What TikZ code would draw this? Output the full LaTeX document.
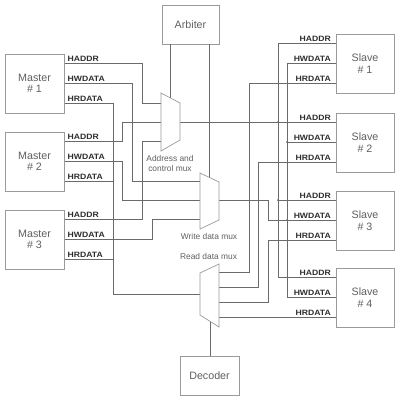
\documentclass[tikz,border=0pt]{standalone}
\usepackage{fontspec}
\setmainfont{Liberation Sans}
\newfontface\sigfont[FakeStretch=1.12]{Liberation Sans Bold}
\definecolor{boxc}{HTML}{9A9A9A}
\definecolor{wirec}{HTML}{6A6A6A}
\definecolor{txtc}{HTML}{606060}
\definecolor{labc}{HTML}{2E2E2E}
\begin{document}
\begin{tikzpicture}[x=1pt,y=-1pt,
  box/.style={draw=boxc, line width=0.7pt, fill=white, minimum width=59pt, minimum height=59pt, inner sep=0pt, align=center, font=\fontsize{10.7}{11.5}\selectfont, text=txtc},
  wire/.style={draw=wirec, line width=0.75pt},
  sig/.style={font=\sigfont\fontsize{7.7}{8}\selectfont, text=labc, inner sep=0pt},
  muxs/.style={draw=boxc, line width=0.7pt, fill=white, line join=miter},
  muxcap/.style={font=\fontsize{8.4}{9.6}\selectfont, text=txtc, inner sep=0pt, align=center},
  jdot/.style={circle, fill=wirec, inner sep=0pt, minimum size=2pt}]
\useasboundingbox (0,0) rectangle (400,400);
\fill[white] (0,0) rectangle (400,400);

% ---------- pin coordinates ----------
\coordinate (m1a) at (64,63);  \coordinate (m1w) at (64,83);  \coordinate (m1r) at (64,103);
\coordinate (m2a) at (64,141); \coordinate (m2w) at (64,161); \coordinate (m2r) at (64,181);
\coordinate (m3a) at (64,219); \coordinate (m3w) at (64,239); \coordinate (m3r) at (64,259);
\coordinate (s1a) at (336,43);  \coordinate (s1w) at (336,63);  \coordinate (s1r) at (336,83);
\coordinate (s2a) at (336,122); \coordinate (s2w) at (336,142); \coordinate (s2r) at (336,162);
\coordinate (s3a) at (336,200); \coordinate (s3w) at (336,220); \coordinate (s3r) at (336,240);
\coordinate (s4a) at (336,277); \coordinate (s4w) at (336,297); \coordinate (s4r) at (336,317);
% address mux
\coordinate (am1) at (161,103); \coordinate (am2) at (161,122); \coordinate (am3) at (161,141);
\coordinate (aout) at (180,122); \coordinate (asel) at (170,97.7);
% write mux
\coordinate (wm1) at (200,181); \coordinate (wm2) at (200,200); \coordinate (wm3) at (200,219);
\coordinate (wout) at (219,200); \coordinate (wsel) at (209,177.3);
% read mux
\coordinate (rm1) at (219,272); \coordinate (rm2) at (219,287); \coordinate (rm3) at (219,302); \coordinate (rm4) at (219,317);
\coordinate (rout) at (200,294); \coordinate (rsel) at (210,321.3);

% ---------- wires: masters to muxes ----------
\draw[wire] (m1a) -| (142,103) -- (am1);
\draw[wire] (m1w) -| (132,181) -- (wm1);
\draw[wire] (m1r) -| (113,294) -- (rout);
\draw[wire] (m2a) -| (122,122) -- (am2);
\draw[wire] (m2w) -| (122,200) -- (wm2);
\draw[wire] (m2r) -- (113,181);
\draw[wire] (m3a) -| (142,141) -- (am3);
\draw[wire] (m3w) -| (152,219) -- (wm3);
\draw[wire] (m3r) -- (113,259);

% ---------- wires: muxes to slaves ----------
\draw[wire] (aout) -- (s2a);
\draw[wire] (s1a) -| (278,277) -- (s4a);
\draw[wire] (s3a) -- (278,200);
\draw[wire] (s1w) -| (287,297) -- (s4w);
\draw[wire] (s2w) -- (287,142);
\draw[wire] (wout) -| (268,220) -- (s3w);
\draw[wire] (s1r) -| (249,272) -- (rm1);
\draw[wire] (s2r) -| (258,287) -- (rm2);
\draw[wire] (s3r) -| (268,302) -- (rm3);
\draw[wire] (s4r) -- (rm4);
\node[jdot] at (278,122) {};
\node[jdot] at (278,200) {};
\node[jdot] at (287,142) {};
\node[jdot] at (287,220) {};

% ---------- boxes ----------
\node[box] (m1) at (34.5,83.5) {Master\\\# 1};
\node[box] (m2) at (34.5,161.5) {Master\\\# 2};
\node[box] (m3) at (34.5,239.5) {Master\\\# 3};
\node[box, minimum width=58pt] (s1) at (365,63.5) {Slave\\\# 1};
\node[box, minimum width=58pt] (s2) at (365,142.5) {Slave\\\# 2};
\node[box, minimum width=58pt] (s3) at (365,220.5) {Slave\\\# 3};
\node[box, minimum width=58pt] (s4) at (365,297.5) {Slave\\\# 4};
\node[box, minimum width=57pt, minimum height=39pt] (arb) at (190.5,24.5) {Arbiter};
\node[box, minimum width=59pt, minimum height=39pt] (dec) at (209.5,375.5) {Decoder};

% select lines
\draw[wire] (arb.south -| asel) -- (asel);
\draw[wire] (arb.south -| wsel) -- (wsel);
\draw[wire] (dec.north -| rsel) -- (rsel);

% ---------- muxes ----------
\draw[muxs] (161,93) -- (180,103) -- (180,140) -- (161,151) -- cycle;
\draw[muxs] (200,173) -- (219,182) -- (219,220) -- (200,229) -- cycle;
\draw[muxs] (200,273) -- (219,264) -- (219,327) -- (200,315) -- cycle;

\node[muxcap, anchor=base] (acap) at (170,161.5) {Address and};
\node[muxcap, anchor=base] (acap2) at (170,171) {control mux};
\node[muxcap, anchor=base] (wcap) at (209,239) {Write data mux};
\node[muxcap, anchor=base] (rcap) at (208.5,259) {Read data mux};

% ---------- signal labels ----------
\foreach \y in {63,141,219}{
  \node[sig, anchor=base west] at (67.5,\y-2) {HADDR};
  \node[sig, anchor=base west] at (67.5,\y+18) {HWDATA};
  \node[sig, anchor=base west] at (67.5,\y+38) {HRDATA};
}
\foreach \y in {43,122,200,277}{
  \node[sig, anchor=base east] at (331,\y-2) {HADDR};
  \node[sig, anchor=base east] at (331,\y+18) {HWDATA};
  \node[sig, anchor=base east] at (331,\y+38) {HRDATA};
}
\end{tikzpicture}
\end{document}
